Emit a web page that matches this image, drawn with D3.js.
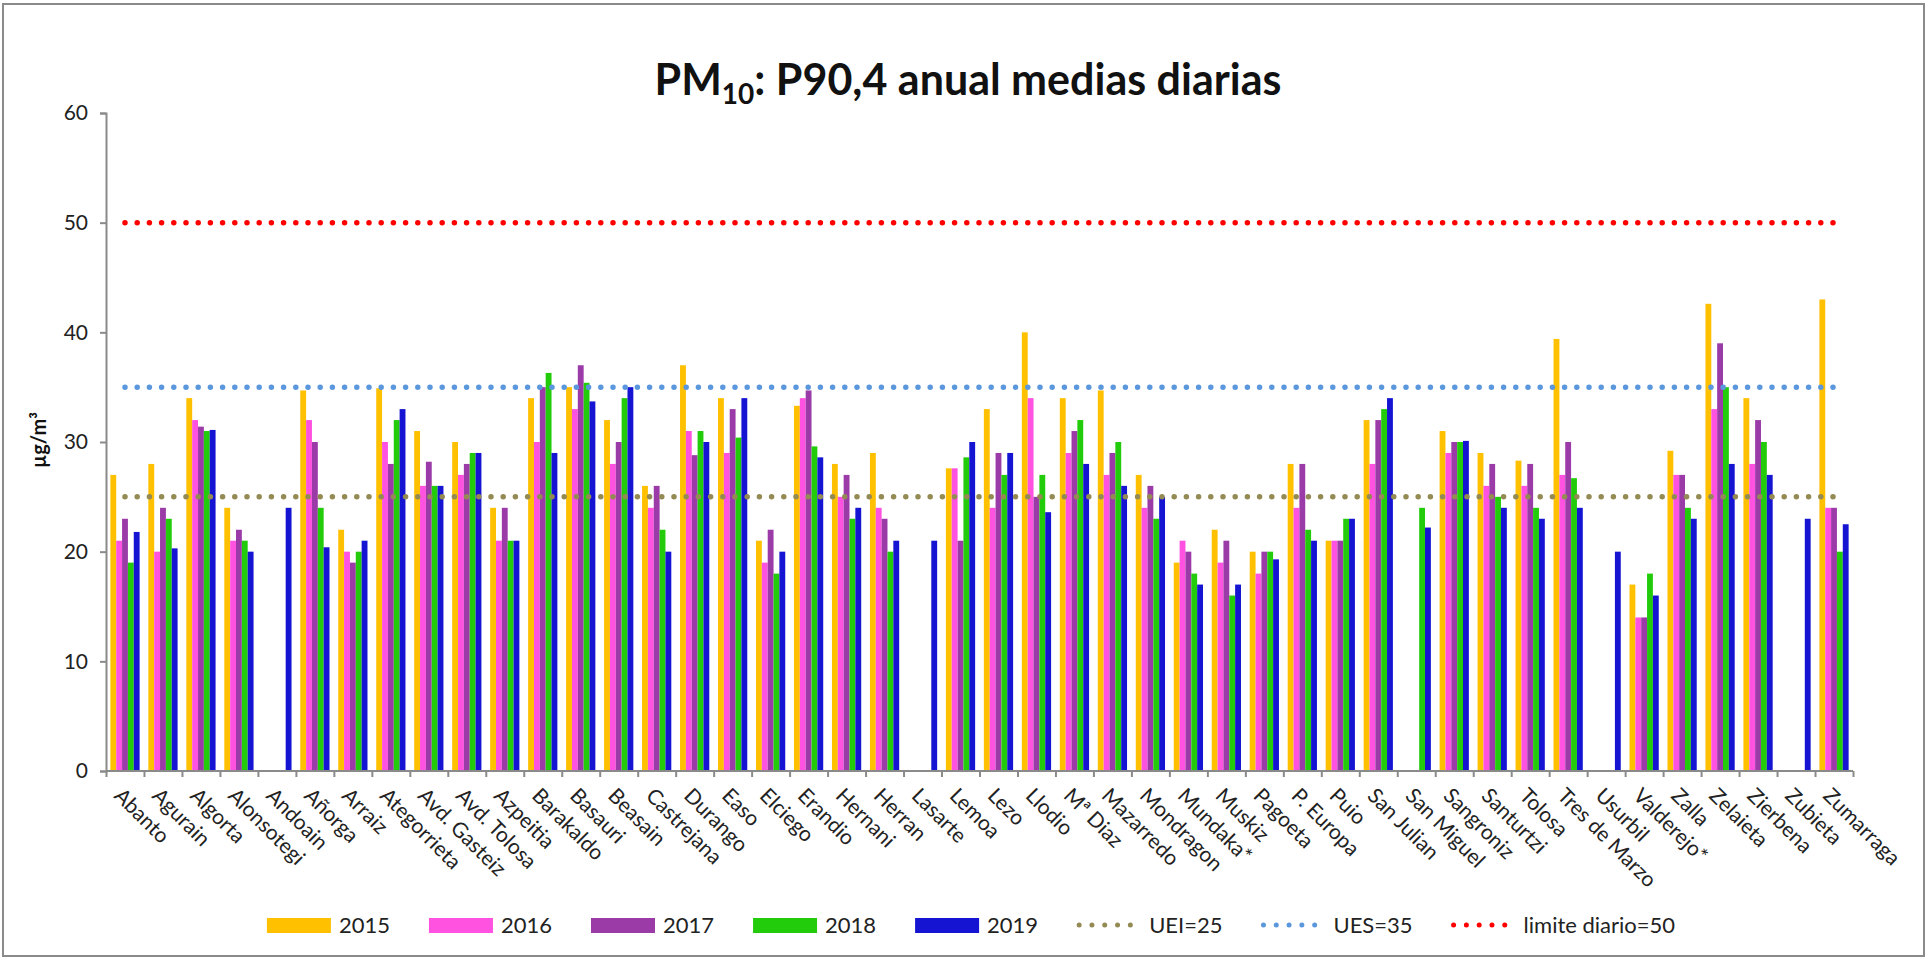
<!DOCTYPE html>
<meta charset="utf-8">
<title>PM10: P90,4 anual medias diarias</title>
<style>
body { margin: 0; background: #fff; }
text { font-family: Lato, "Open Sans", sans-serif; fill: #222; }
.axis path, .axis line { stroke: #8a8a8a; stroke-width: 2px; }
</style>
<body>
<svg width="1928" height="960"></svg>
<script src="https://d3js.org/d3.v7.min.js"></script>
<script>

// stations (x categories)
var stations = ["Abanto", "Agurain", "Algorta", "Alonsotegi", "Andoain", "Añorga", "Arraiz",
  "Ategorrieta", "Avd. Gasteiz", "Avd. Tolosa", "Azpeitia", "Barakaldo", "Basauri", "Beasain",
  "Castrejana", "Durango", "Easo", "Elciego", "Erandio", "Hernani", "Herran", "Lasarte", "Lemoa",
  "Lezo", "Llodio", "Mª Diaz", "Mazarredo", "Mondragon", "Mundaka*", "Muskiz", "Pagoeta",
  "P. Europa", "Puio", "San Julian", "San Miguel", "Sangroniz", "Santurtzi", "Tolosa",
  "Tres de Marzo", "Usurbil", "Valderejo*", "Zalla", "Zelaieta", "Zierbena", "Zubieta", "Zumarraga"];

var years = ["2015", "2016", "2017", "2018", "2019"];

// P90,4 of daily means, µg/m3 (null = no data)
var v2015 = [27, 28, 34, 24, null, 34.7, 22, 34.9, 31, 30, 24, 34, 35, 32, 26, 37, 34, 21, 33.3, 28, 29, null, 27.6,
  33, 40, 34, 34.7, 27, 19, 22, 20, 28, 21, 32, null, 31, 29, 28.3, 39.4, null, 17, 29.2, 42.6, 34, null, 43];
var v2016 = [21, 20, 32, 21, null, 32, 20, 30, 26, 27, 21, 30, 33, 28, 24, 31, 29, 19, 34, 25, 24, null, 27.6,
  24, 34, 29, 27, 24, 21, 19, 18, 24, 21, 28, null, 29, 26, 26, 27, null, 14, 27, 33, 28, null, 24];
var v2017 = [23, 24, 31.4, 22, null, 30, 19, 28, 28.2, 28, 24, 35, 37, 30, 26, 28.8, 33, 22, 34.7, 27, 23, null, 21,
  29, 25, 31, 29, 26, 20, 21, 20, 28, 21, 32, null, 30, 28, 28, 30, null, 14, 27, 39, 32, null, 24];
var v2018 = [19, 23, 31, 21, null, 24, 20, 32, 26, 29, 21, 36.3, 35.4, 34, 22, 31, 30.4, 18, 29.6, 23, 20, null, 28.6,
  27, 27, 32, 30, 23, 18, 16, 20, 22, 23, 33, 24, 30, 25, 24, 26.7, null, 18, 24, 35, 30, null, 20];
var v2019 = [21.8, 20.3, 31.1, 20, 24, 20.4, 21, 33, 26, 29, 21, 29, 33.7, 35, 20, 30, 34, 20, 28.6, 24, 21, 21, 30,
  29, 23.6, 28, 26, 25, 17, 17, 19.3, 21, 23, 34, 22.2, 30.1, 24, 23, 24, 20, 16, 23, 28, 27, 23, 22.5];

var yearColors = ["#ffc000", "#ff52e0", "#9b3ba8", "#22cc0a", "#1414d2"];

// reference lines
var limitLabels = ["UEI=25", "UES=35", "limite diario=50"];
var limitValues = [25, 35, 50];
var limitColors = ["#948a54", "#5b97dc", "#ff0000"];

var yTicks = [0, 10, 20, 30, 40, 50, 60];

var series = [v2015, v2016, v2017, v2018, v2019];

var svg = d3.select("svg"),
  width = +svg.attr("width"),
  height = +svg.attr("height");

var plotLeft = 106, plotRight = 1853, plotTop = 113, plotBottom = 771;

// frame
svg.append("rect")
  .attr("x", 3).attr("y", 4)
  .attr("width", width - 7).attr("height", height - 8)
  .attr("fill", "#fff")
  .attr("stroke", "#8a8a8a")
  .attr("stroke-width", 2);

var x0 = d3.scaleBand()
  .domain(stations)
  .range([plotLeft, plotRight])
  .paddingInner(0.23)
  .paddingOuter(0.115);

var x1 = d3.scaleBand()
  .domain(years)
  .range([0, x0.bandwidth()]);

var y = d3.scaleLinear()
  .domain([0, 60])
  .range([plotBottom, plotTop]);

// tick marks between categories
var xEdges = d3.scaleLinear()
  .domain([0, stations.length])
  .range([plotLeft, plotRight]);

// title
var title = svg.append("text")
  .attr("x", 968)
  .attr("y", 95)
  .attr("text-anchor", "middle")
  .style("font-size", "43px")
  .style("font-weight", "bold")
  .style("fill", "#111");
title.append("tspan").text("PM");
title.append("tspan").attr("dy", 9).style("font-size", "28px").text("10");
title.append("tspan").attr("dy", -9).text(": P90,4 anual medias diarias");

// bars
var groups = svg.append("g")
  .selectAll("g")
  .data(stations)
  .enter().append("g")
  .attr("transform", function(d) { return "translate(" + x0(d) + ",0)"; });

groups.selectAll("rect")
  .data(function(d, i) {
    return years.map(function(yr, k) { return { year: yr, k: k, value: series[k][i] }; })
      .filter(function(e) { return e.value != null; });
  })
  .enter().append("rect")
  .attr("x", function(d) { return x1(d.year); })
  .attr("y", function(d) { return y(d.value); })
  .attr("width", x1.bandwidth())
  .attr("height", function(d) { return y(0) - y(d.value); })
  .attr("fill", function(d) { return yearColors[d.k]; });

// dotted limit lines from first to last category centre
var firstC = x0(stations[0]) + x0.bandwidth() / 2,
  lastC = x0(stations[stations.length - 1]) + x0.bandwidth() / 2;

svg.append("g")
  .selectAll("line")
  .data(limitValues)
  .enter().append("line")
  .attr("x1", firstC)
  .attr("x2", lastC)
  .attr("y1", function(d) { return y(d); })
  .attr("y2", function(d) { return y(d); })
  .attr("stroke", function(d, i) { return limitColors[i]; })
  .attr("stroke-width", 5.5)
  .attr("stroke-linecap", "round")
  .attr("stroke-dasharray", "0 12.2");

// y axis
var yAxis = svg.append("g")
  .attr("class", "axis")
  .attr("transform", "translate(" + plotLeft + ",0)")
  .call(d3.axisLeft(y).tickValues(yTicks).tickSize(6).tickPadding(12));
yAxis.selectAll("text").style("font-size", "21px").style("fill", "#222");

// x axis line + ticks
var xAxis = svg.append("g")
  .attr("class", "axis")
  .attr("transform", "translate(0," + plotBottom + ")")
  .call(d3.axisBottom(xEdges).tickValues(d3.range(stations.length + 1)).tickSize(6).tickFormat(""));
xAxis.select(".domain").attr("d", "M" + plotLeft + ",0H" + plotRight);

// x labels
var xLabels = svg.append("g")
  .attr("transform", "translate(0," + plotBottom + ")")
  .call(d3.axisBottom(x0).tickSize(0).tickPadding(0));
xLabels.select(".domain").remove();
xLabels.selectAll("text")
  .attr("x", 0).attr("y", 0).attr("dy", 0)
  .attr("text-anchor", "start")
  .attr("transform", "translate(-12,26) rotate(45)")
  .style("font-size", "21px")
  .style("fill", "#222");

// y axis title
svg.append("text")
  .attr("transform", "translate(46,440) rotate(-90)")
  .attr("text-anchor", "middle")
  .style("font-size", "20px")
  .style("font-weight", "bold")
  .style("fill", "#111")
  .text("µg/m³");

// legend
var legendItems = years.map(function(yr, k) { return { label: yr, color: yearColors[k], kind: "bar" }; })
  .concat(limitLabels.map(function(l, k) { return { label: l, color: limitColors[k], kind: "dots" }; }));

var legend = svg.append("g");
var lx = 0, gap = 39;
legendItems.forEach(function(it) {
  var g = legend.append("g").attr("transform", "translate(" + lx + ",0)");
  if (it.kind == "bar") {
    g.append("rect")
      .attr("x", 0).attr("y", -15)
      .attr("width", 64).attr("height", 15)
      .attr("fill", it.color);
  } else {
    g.append("line")
      .attr("x1", 2).attr("x2", 66)
      .attr("y1", -8).attr("y2", -8)
      .attr("stroke", it.color)
      .attr("stroke-width", 5)
      .attr("stroke-linecap", "round")
      .attr("stroke-dasharray", "0 12.8");
  }
  var t = g.append("text")
    .attr("x", 72)
    .attr("y", 0)
    .style("font-size", "22px")
    .text(it.label);
  lx += 72 + t.node().getComputedTextLength() + gap;
});
lx -= gap;
legend.attr("transform", "translate(" + (971 - lx / 2) + ",933)");

</script>
</body>
